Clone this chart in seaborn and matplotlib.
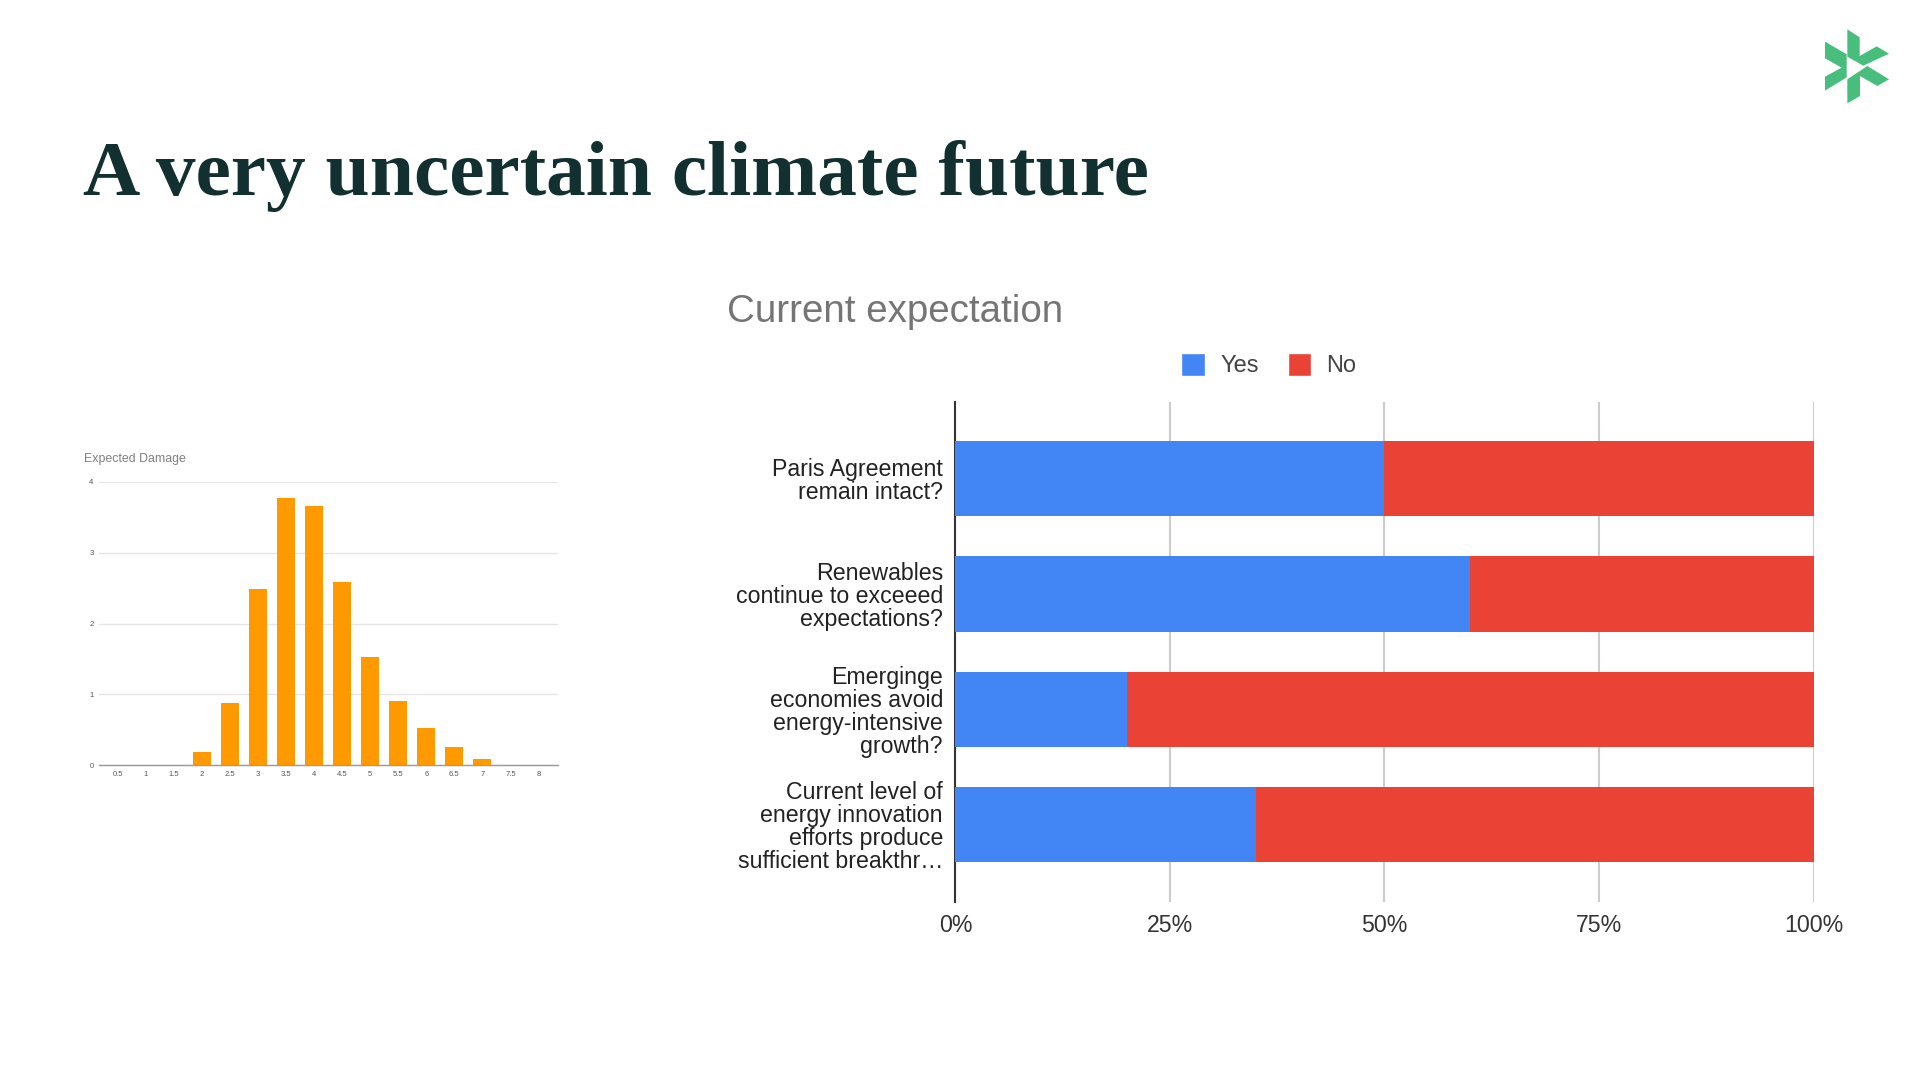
import matplotlib
matplotlib.use('Agg')
import matplotlib.pyplot as plt
import pandas as pd
import seaborn as sns
from matplotlib.patches import Patch, Polygon

# ── DATA ─────────────────────────────────────────────────────────────────────
damage_bins = ["0.5", "1", "1.5", "2", "2.5", "3", "3.5", "4",
               "4.5", "5", "5.5", "6", "6.5", "7", "7.5", "8"]
damage_vals = [0, 0, 0.01, 0.19, 0.88, 2.48, 3.77, 3.66,
               2.58, 1.53, 0.90, 0.53, 0.26, 0.085, 0, 0]

questions = ["Paris Agreement\nremain intact?",
             "Renewables\ncontinue to exceeed\nexpectations?",
             "Emerginge\neconomies avoid\nenergy-intensive\ngrowth?",
             "Current level of\nenergy innovation\nefforts produce\nsufficient breakthr…"]
yes_vals = [50, 60, 20, 35]
no_vals = [50, 40, 80, 65]
pct_ticks = [0, 25, 50, 75, 100]

# ── STYLE ────────────────────────────────────────────────────────────────────
W, H = 1920, 1080
BLUE = "#4285F4"
RED = "#EA4335"
ORANGE = "#FF9900"
GREEN = "#48BE7C"

sns.set_theme(style="whitegrid")
plt.rcParams['font.family'] = ['Liberation Sans', 'DejaVu Sans']


def px_axes(fig, left, top, right, bottom):
    return fig.add_axes([left / W, 1 - bottom / H, (right - left) / W, (bottom - top) / H])


fig = plt.figure(figsize=(W / 100, H / 100), dpi=100, facecolor="white")

fig.text(83 / W, 1 - 176 / H, "A very uncertain climate future", family="Liberation Serif",
         fontweight="bold", fontsize=57.2, color="#12302F", va="center", ha="left")

# ── LOGO ─────────────────────────────────────────────────────────────────────
logo_pieces = [
    [(202, 88), (239, 112), (239, 168), (290, 139), (327, 161), (250, 197), (202, 170)],
    [(135, 125), (200, 163), (200, 232), (135, 272), (135, 230), (185, 203), (135, 175)],
    [(262, 198), (327, 238), (292, 258), (240, 228), (240, 288), (202, 310), (202, 238)],
]
for piece in logo_pieces:
    pts = [((1780 + x / 3) / W, 1 - (y / 3) / H) for x, y in piece]
    fig.add_artist(Polygon(pts, closed=True, facecolor=GREEN, edgecolor="none",
                           transform=fig.transFigure))

# ── LEFT CHART: EXPECTED DAMAGE ──────────────────────────────────────────────
ax_left = px_axes(fig, 99, 481.7, 557.5, 765.3)
damage_df = pd.DataFrame({"bin": damage_bins, "value": damage_vals})
sns.barplot(data=damage_df, x="bin", y="value", color=ORANGE, width=0.65,
            saturation=1, linewidth=0, ax=ax_left, zorder=3)
ax_left.set_xlim(-0.68, 15.68)
ax_left.set_ylim(0, 4)
ax_left.set_yticks([0, 1, 2, 3, 4])
ax_left.set_xlabel("")
ax_left.set_ylabel("")
ax_left.grid(axis="x", visible=False)
ax_left.grid(axis="y", color="#E6E6E6", linewidth=1)
ax_left.set_axisbelow(True)
for side in ["top", "left", "right"]:
    ax_left.spines[side].set_visible(False)
ax_left.spines["bottom"].set_color("#999999")
ax_left.spines["bottom"].set_linewidth(1)
ax_left.tick_params(axis="both", length=0, labelsize=5.5, labelcolor="#555555", pad=4)
fig.text(84 / W, 1 - 459 / H, "Expected Damage", fontsize=8.9, color="#808080",
         va="center", ha="left")

# ── RIGHT CHART: CURRENT EXPECTATION ─────────────────────────────────────────
ax_right = px_axes(fig, 955.4, 401.7, 1813.5, 901.7)
expect_df = pd.DataFrame({"question": questions, "yes": yes_vals, "no": no_vals})
expect_df["total"] = expect_df["yes"] + expect_df["no"]

sns.barplot(data=expect_df, y="question", x="total", color=RED, width=0.653,
            saturation=1, linewidth=0, ax=ax_right, zorder=3)
sns.barplot(data=expect_df, y="question", x="yes", color=BLUE, width=0.653,
            saturation=1, linewidth=0, ax=ax_right, zorder=4)
ax_right.set_xlim(0, 100)
ax_right.set_ylim(3.667, -0.667)
ax_right.set_xticks(pct_ticks)
ax_right.set_xticklabels([f"{p}%" for p in pct_ticks])
ax_right.set_xlabel("")
ax_right.set_ylabel("")
ax_right.grid(axis="y", visible=False)
ax_right.grid(axis="x", color="#CCCCCC", linewidth=1.5)
ax_right.set_axisbelow(True)
for side in ["top", "bottom", "right"]:
    ax_right.spines[side].set_visible(False)
ax_right.spines["left"].set_color("#333333")
ax_right.spines["left"].set_linewidth(1.5)
ax_right.spines["left"].set_zorder(2)
ax_right.tick_params(axis="x", length=0, labelsize=16.7, labelcolor="#333333", pad=9)
ax_right.tick_params(axis="y", length=0, labelsize=16.7, labelcolor="#222222", pad=9)
for lab in ax_right.get_yticklabels():
    lab.set_linespacing(1.0)
    lab.set_ha("right")

fig.text(727 / W, 1 - 312 / H, "Current expectation", fontsize=27.7, color="#757575",
         va="center", ha="left")

handles = [Patch(facecolor=BLUE, label="Yes"), Patch(facecolor=RED, label="No")]
fig.legend(handles=handles, loc="center left", bbox_to_anchor=(1160 / W, 1 - 365 / H),
           ncol=2, frameon=False, fontsize=17, labelcolor="#444444", handlelength=1.0,
           handleheight=1.15, handletextpad=0.65, columnspacing=1.22)

fig.savefig("out.png", dpi=100)
plt.close(fig)
print("Saved: out.png")
